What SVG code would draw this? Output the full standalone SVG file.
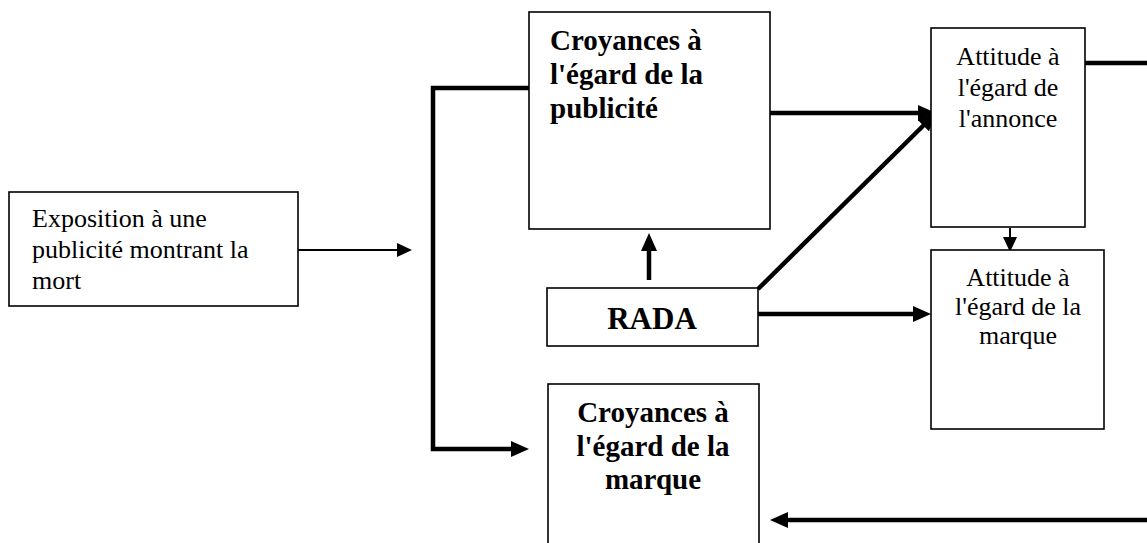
<svg xmlns="http://www.w3.org/2000/svg" width="1147" height="543" viewBox="0 0 1147 543">
<style>
.box{fill:#fff;stroke:#000;stroke-width:1.6}
.t{font-family:"Liberation Serif","Times New Roman",serif;fill:#000}
.r{font-size:26px}
.b{font-size:29px;font-weight:bold}
.thick{fill:none;stroke:#000;stroke-width:4.5;stroke-linejoin:miter}
.thin{fill:none;stroke:#000;stroke-width:2}
</style>
<defs>
<marker id="ah" viewBox="0 0 18 16" refX="8" refY="8" markerWidth="18" markerHeight="16" markerUnits="userSpaceOnUse" orient="auto">
<path d="M0,0 L18,8 L0,16 z" fill="#000"/>
</marker>
<marker id="ahs" viewBox="0 0 15 14" refX="6" refY="7" markerWidth="15" markerHeight="14" markerUnits="userSpaceOnUse" orient="auto">
<path d="M0,0 L15,7 L0,14 z" fill="#000"/>
</marker>
</defs>
<g id="connectors">
<line class="thin" x1="298" y1="250" x2="403" y2="250" marker-end="url(#ahs)"/>
<polyline class="thick" points="529,88 433,88 433,449 519,449" marker-end="url(#ah)"/>
<line class="thick" x1="770" y1="113" x2="926" y2="113" marker-end="url(#ah)"/>
<line class="thick" x1="758" y1="289" x2="929" y2="120" marker-end="url(#ah)"/>
<line class="thick" x1="649" y1="280" x2="649" y2="243" marker-end="url(#ah)"/>
<line class="thick" x1="758" y1="314" x2="921" y2="314" marker-end="url(#ah)"/>
<line class="thin" x1="1010" y1="228" x2="1010" y2="243" marker-end="url(#ahs)"/>
<line class="thick" x1="1083" y1="63" x2="1150" y2="63"/>
<line class="thick" x1="1150" y1="520" x2="780" y2="520" marker-end="url(#ah)"/>
</g>
<g id="exposition">
<rect class="box" x="9" y="192" width="289" height="114"/>
<text class="t r" x="32" y="227">Exposition à une</text>
<text class="t r" x="32" y="258">publicité montrant la</text>
<text class="t r" x="32" y="289">mort</text>
</g>
<g id="croyances-pub">
<rect class="box" x="529" y="12" width="241" height="217"/>
<text class="t b" x="550" y="50">Croyances à</text>
<text class="t b" x="550" y="84">l'égard de la</text>
<text class="t b" x="550" y="118">publicité</text>
</g>
<g id="rada">
<rect class="box" x="547" y="288" width="211" height="58"/>
<text class="t" x="652" y="329" text-anchor="middle" font-size="31" font-weight="bold">RADA</text>
</g>
<g id="croyances-marque">
<rect class="box" x="548" y="384" width="211" height="170"/>
<text class="t b" x="653" y="422" text-anchor="middle">Croyances à</text>
<text class="t b" x="653" y="456" text-anchor="middle">l'égard de la</text>
<text class="t b" x="653" y="489" text-anchor="middle">marque</text>
</g>
<g id="attitude-annonce">
<rect class="box" x="931" y="28" width="154" height="199"/>
<text class="t r" x="1008" y="65" text-anchor="middle">Attitude à</text>
<text class="t r" x="1008" y="96" text-anchor="middle">l'égard de</text>
<text class="t r" x="1008" y="127" text-anchor="middle">l'annonce</text>
</g>
<g id="attitude-marque">
<rect class="box" x="931" y="250" width="173" height="179"/>
<text class="t r" x="1018" y="286" text-anchor="middle">Attitude à</text>
<text class="t r" x="1018" y="315" text-anchor="middle">l'égard de la</text>
<text class="t r" x="1018" y="344" text-anchor="middle">marque</text>
</g>
</svg>
